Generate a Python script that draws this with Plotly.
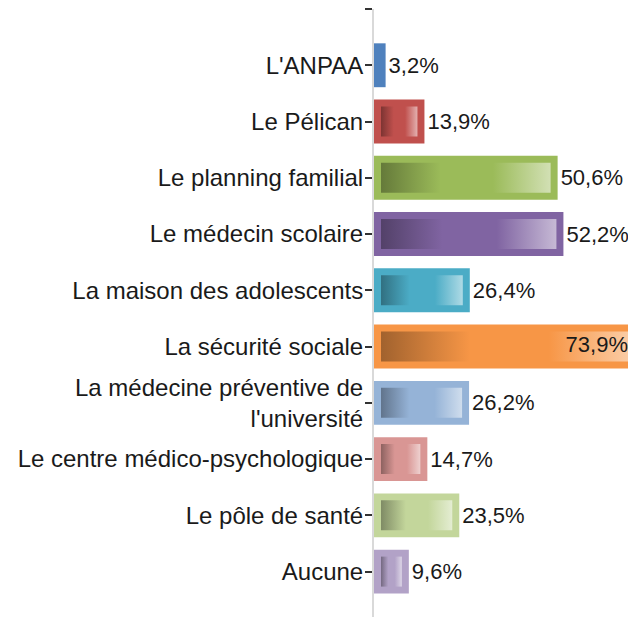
import plotly.graph_objects as go

categories = [
    "L'ANPAA",
    "Le Pélican",
    "Le planning familial",
    "Le médecin scolaire",
    "La maison des adolescents",
    "La sécurité sociale",
    "La médecine préventive de<br>l'université",
    "Le centre médico-psychologique",
    "Le pôle de santé",
    "Aucune",
]
values = [3.2, 13.9, 50.6, 52.2, 26.4, 73.9, 26.2, 14.7, 23.5, 9.6]
colors = ["#4F81BD", "#C0504D", "#9BBB59", "#8064A2", "#4BACC6",
          "#F79646", "#95B3D7", "#D99694", "#C3D69B", "#B2A2C7"]

PAGE_OFF = 8  # default body margin of the page
W, H = 636 - 2 * PAGE_OFF, 625 - 2 * PAGE_OFF
ML, MT = 374 - PAGE_OFF, 9 - PAGE_OFF
PX_PER_X = 262 / 72.2
PX_PER_Y = 56.26
BAR_W = 0.78
INSET_X_PX = 7
INNER_HALF_PX = 15

plot_w = W - ML
plot_h = H - MT
XMAX = plot_w / PX_PER_X
y_top = -1
y_bottom = y_top + plot_h / PX_PER_Y
inset_x = INSET_X_PX / PX_PER_X
inner_half = INNER_HALF_PX / PX_PER_Y

FONT = "Liberation Sans, Arial"


def hex2rgb(h):
    h = h.lstrip("#")
    return tuple(int(h[i:i + 2], 16) for i in (0, 2, 4))


def mix(c, target, t):
    r = hex2rgb(c)
    return "rgb(%d,%d,%d)" % tuple(round(a + (b - a) * t) for a, b in zip(r, target))


def fmt(v):
    return f"{v:.1f}".replace(".", ",") + "%"


ypos = list(range(len(categories)))
labels = [fmt(v) for v in values]

fig = go.Figure()

fig.add_trace(go.Bar(
    x=values, y=ypos, orientation="h", width=BAR_W,
    marker=dict(color=colors, line=dict(width=0)),
    text=[l if v <= XMAX else "" for l, v in zip(labels, values)],
    textposition="outside",
    textfont=dict(family=FONT, size=22, color="#1a1a1a"),
    cliponaxis=True,
    showlegend=False, hoverinfo="skip",
))

# inner gradient panels
for i, (v, c) in enumerate(zip(values, colors)):
    x0, x1 = inset_x, v - inset_x
    if x1 - x0 < inset_x:
        continue
    dark = mix(c, (0, 0, 0), 0.35)
    light = mix(c, (255, 255, 255), 0.55)
    base = mix(c, (0, 0, 0), 0.0)
    fig.add_trace(go.Scatter(
        x=[x0, x1, x1, x0, x0],
        y=[i - inner_half, i - inner_half, i + inner_half, i + inner_half, i - inner_half],
        mode="lines", line=dict(width=0), fill="toself",
        fillgradient=dict(type="horizontal",
                          colorscale=[[0, dark], [0.35, base], [0.66, base], [1, light]]),
        showlegend=False, hoverinfo="skip",
    ))

# labels for bars extending beyond the axis end
for i, (v, l) in enumerate(zip(values, labels)):
    if v > XMAX:
        fig.add_trace(go.Scatter(
            x=[XMAX], y=[i], mode="text", text=[l], textposition="middle left",
            textfont=dict(family=FONT, size=22, color="#1a1a1a"),
            showlegend=False, hoverinfo="skip", cliponaxis=False,
        ))

fig.update_layout(
    width=W, height=H,
    margin=dict(l=ML, r=0, t=MT, b=0, autoexpand=False),
    paper_bgcolor="white", plot_bgcolor="white",
    font=dict(family=FONT, size=24, color="#1a1a1a"),
    xaxis=dict(range=[0, XMAX], visible=False, showgrid=False, zeroline=False),
    yaxis=dict(
        range=[y_bottom, y_top],
        tickvals=[-1] + ypos, ticktext=[""] + categories,
        ticks="outside", ticklen=7, tickwidth=1.5, tickcolor="#333333",
        showline=True, linecolor="#D9D9D9", linewidth=2,
        showgrid=False, zeroline=False, automargin=False,
        tickfont=dict(family=FONT, size=24, color="#1a1a1a"),
        ticklabelstandoff=-3,
    ),
)

fig.write_html("out.html")
